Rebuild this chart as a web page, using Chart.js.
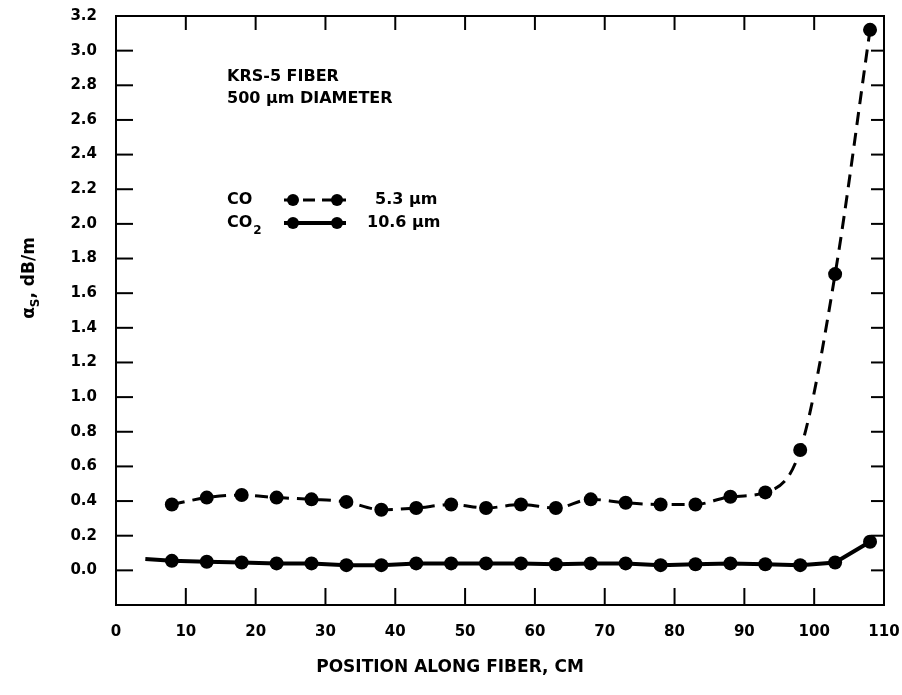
<!DOCTYPE html>
<html>
<head>
<meta charset="utf-8">
<script src="https://cdn.jsdelivr.net/npm/chart.js@4.4.0/dist/chart.umd.min.js"></script>
<style>
html,body{margin:0;padding:0;background:#fff;}
#caixa{width:902px;height:695px;}
</style>
</head>
<body>
<div id="caixa"><canvas id="grafico"></canvas></div>
<script>
// posicoes ao longo da fibra (cm)
const posicoes = [8,13,18,23,28,33,38,43,48,53,58,63,68,73,78,83,88,93,98,103,108];
// CO laser 5.3 um (tracejado)
const valoresCO = [0.38,0.42,0.435,0.42,0.41,0.395,0.35,0.36,0.38,0.36,0.38,0.36,0.41,0.39,0.38,0.38,0.425,0.45,0.695,1.71,3.12];
// CO2 laser 10.6 um (linha cheia), a linha comeca um pouco antes do primeiro ponto
const posicoesCO2 = [4.2,8,13,18,23,28,33,38,43,48,53,58,63,68,73,78,83,88,93,98,103,108];
const valoresCO2 = [0.065,0.055,0.05,0.045,0.04,0.04,0.03,0.03,0.04,0.04,0.04,0.04,0.035,0.04,0.04,0.03,0.035,0.04,0.035,0.03,0.045,0.165];
const ticksX = [0,10,20,30,40,50,60,70,80,90,100,110];
const ticksY = [0.0,0.2,0.4,0.6,0.8,1.0,1.2,1.4,1.6,1.8,2.0,2.2,2.4,2.6,2.8,3.0,3.2];

const fonte = '"DejaVu Sans", sans-serif';

function linha(ctx, x1, y1, x2, y2){
    ctx.beginPath(); ctx.moveTo(x1,y1); ctx.lineTo(x2,y2); ctx.stroke();
}
function bolinha(ctx, x, y, r){
    ctx.beginPath(); ctx.arc(x,y,r,0,Math.PI*2); ctx.fill();
}

const moldura = {
    id: 'moldura',
    afterDraw(chart){
        const ctx = chart.ctx, a = chart.chartArea, sx = chart.scales.x, sy = chart.scales.y;
        ctx.save();
        ctx.strokeStyle = '#000'; ctx.fillStyle = '#000';
        ctx.lineWidth = 2;
        ctx.strokeRect(a.left, a.top, a.right-a.left, a.bottom-a.top);
        // ticks para dentro
        ticksY.forEach(v => {
            const py = sy.getPixelForValue(v);
            linha(ctx, a.left, py, a.left+17, py);
            linha(ctx, a.right-13, py, a.right, py);
        });
        ticksX.forEach(v => {
            if (v <= sx.min || v >= sx.max) return;
            const px = sx.getPixelForValue(v);
            linha(ctx, px, a.bottom-17, px, a.bottom);
            linha(ctx, px, a.top, px, a.top+14);
        });

        // textos
        ctx.textBaseline = 'middle';
        ctx.textAlign = 'left';
        ctx.font = 'bold 16px ' + fonte;
        ctx.fillText('KRS-5 FIBER', 227, 77);
        ctx.fillText('500 \u03bcm DIAMETER', 227, 99);

        // legenda
        ctx.fillText('CO', 227, 200);
        ctx.fillText('5.3 \u03bcm', 375, 200);
        ctx.fillText('CO', 227, 223);
        ctx.fillText('10.6 \u03bcm', 367, 223);
        const wco = ctx.measureText('CO').width;
        ctx.font = 'bold 12px ' + fonte;
        ctx.fillText('2', 227 + wco + 1, 231);

        ctx.lineWidth = 3;
        ctx.setLineDash([12,7]);
        linha(ctx, 284, 200, 346, 200);
        ctx.setLineDash([]);
        bolinha(ctx, 293, 200, 6); bolinha(ctx, 337, 200, 6);
        ctx.lineWidth = 4;
        linha(ctx, 284, 223, 346, 223);
        bolinha(ctx, 293, 223, 6); bolinha(ctx, 337, 223, 6);

        // titulo do eixo x
        ctx.textAlign = 'center';
        ctx.font = 'bold 17px ' + fonte;
        ctx.fillText('POSITION ALONG FIBER, CM', 450, 668);

        // titulo do eixo y com subscrito
        ctx.translate(30, 278);
        ctx.rotate(-Math.PI/2);
        ctx.textAlign = 'left';
        ctx.font = 'bold 17px ' + fonte;
        const p1 = '\u03b1', p2 = 'S', p3 = ', dB/m';
        const w1 = ctx.measureText(p1).width;
        ctx.font = 'bold 12px ' + fonte;
        const w2 = ctx.measureText(p2).width;
        ctx.font = 'bold 17px ' + fonte;
        const w3 = ctx.measureText(p3).width;
        let xx = -(w1+w2+w3)/2;
        ctx.fillText(p1, xx, 0); xx += w1;
        ctx.font = 'bold 12px ' + fonte;
        ctx.fillText(p2, xx, 6); xx += w2;
        ctx.font = 'bold 17px ' + fonte;
        ctx.fillText(p3, xx, 0);
        ctx.restore();
    }
};

// grade invisivel: so serve para afastar os rotulos do eixo
const gradeInvisivel = (tam) => ({
    display: true, drawOnChartArea: false, drawTicks: true,
    tickLength: tam, color: 'rgba(0,0,0,0)'
});

const ctx = document.getElementById('grafico').getContext('2d');
const grafico = new Chart(ctx, {
    type: 'line',
    data: {
        datasets: [{
            label: 'CO 5.3 \u03bcm',
            data: posicoes.map((p,i) => ({x: p, y: valoresCO[i]})),
            borderColor: '#000',
            backgroundColor: '#000',
            borderWidth: 3,
            borderDash: [13,8],
            cubicInterpolationMode: 'monotone',
            pointRadius: 7,
            pointBorderWidth: 0,
            clip: false
        }, {
            label: 'CO2 10.6 \u03bcm',
            data: posicoesCO2.map((p,i) => ({x: p, y: valoresCO2[i]})),
            borderColor: '#000',
            backgroundColor: '#000',
            borderWidth: 4,
            tension: 0,
            pointRadius: posicoesCO2.map((p,i) => i === 0 ? 0 : 7),
            pointBorderWidth: 0,
            clip: false
        }]
    },
    options: {
        responsive: true,
        maintainAspectRatio: false,
        animation: false,
        layout: { padding: { left: 0, right: 18, top: 16, bottom: 0 } },
        plugins: { legend: { display: false }, tooltip: { enabled: false } },
        scales: {
            x: {
                type: 'linear',
                min: 0, max: 110,
                afterBuildTicks: s => { s.ticks = ticksX.map(v => ({value: v})); },
                afterFit: s => { s.height = 90; },
                grid: gradeInvisivel(18),
                border: { display: false },
                ticks: {
                    padding: 0,
                    color: '#000',
                    font: { family: fonte, size: 15, weight: 'bold' },
                    callback: v => String(v)
                }
            },
            y: {
                type: 'linear',
                min: -0.2, max: 3.2,
                afterBuildTicks: s => { s.ticks = ticksY.map(v => ({value: v})); },
                afterFit: s => { s.width = 116; },
                grid: gradeInvisivel(19),
                border: { display: false },
                ticks: {
                    padding: 0,
                    color: '#000',
                    font: { family: fonte, size: 15, weight: 'bold' },
                    callback: v => v.toFixed(1)
                }
            }
        }
    },
    plugins: [moldura]
});
</script>
</body>
</html>
